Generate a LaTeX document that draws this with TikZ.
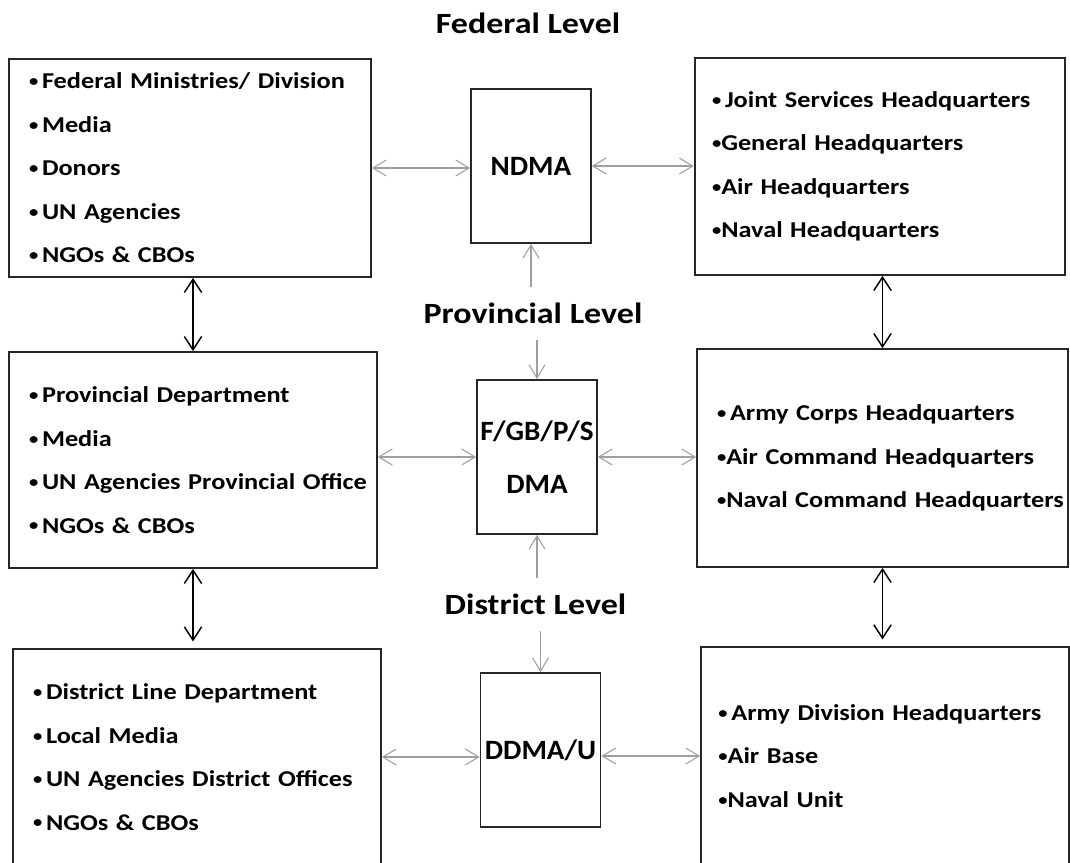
\documentclass[tikz,border=0pt]{standalone}
\usepackage{fontspec}
\setmainfont{Carlito}[FakeStretch=1.16]
\newfontfamily\orgfont{Carlito}[FakeStretch=1.04]
\newcommand{\bul}{\raisebox{1.6pt}{\fontsize{12}{12}\selectfont•}}
\usetikzlibrary{arrows.meta,positioning}

\begin{document}
\begin{tikzpicture}[x=0.75pt,y=-0.75pt,
 blk/.style={draw=black!85,line width=1.3pt,inner xsep=15pt,text width=246pt,
 minimum height=162pt,align=left,font=\bfseries\fontsize{17}{32.6}\selectfont},
 org/.style={draw=black!85,line width=1.3pt,minimum width=90pt,minimum height=115.5pt,
 inner sep=0pt,align=center,font=\orgfont\bfseries\fontsize{21}{40}\selectfont},
 lvl/.style={fill=white,minimum width=172pt,minimum height=40pt,
 font=\bfseries\fontsize{22}{26}\selectfont},
 garr/.style={draw=gray!75,line width=0.8pt,
 {Straight Barb[length=10pt,width=12pt]}-{Straight Barb[length=10pt,width=12pt]}},
 gto/.style={draw=gray!75,line width=0.8pt,-{Straight Barb[length=10pt,width=12pt]}},
 barr/.style={line width=1.1pt,
 {Straight Barb[length=10pt,width=13pt]}-{Straight Barb[length=10pt,width=13pt]}}]
 \path[use as bounding box] (0,0) rectangle (1070,863);
 \clip (0,0) rectangle (1070,863);
 \node[lvl] (fed) at (528,23) {Federal Level};
 \node[lvl] (prov) at (533,313.5) {Provincial Level};
 \node[lvl] (dist) at (535.5,604.5) {District Level};
 \node[blk,text width=241.5pt,minimum height=163.5pt] (lf) at (190,168)
 {\bul\,Federal Ministries/ Division\\ \bul\,Media\\ \bul\,Donors\\ \bul\,UN Agencies\\ \bul\,NGOs \& CBOs};
 \node[blk,text width=252pt,inner xsep=13pt,minimum height=162.75pt] (rf) at (880,166.5)
 {\bul\,Joint Services Headquarters\\ \bul General Headquarters\\ \bul Air Headquarters\\ \bul Naval Headquarters};
 \node[blk] (lp) at (193,460)
 {\bul\,Provincial Department\\ \bul\,Media\\ \mbox{\bul\,UN Agencies Provincial Office}\\ \bul\,NGOs \& CBOs};
 \node[blk,text width=248.25pt,minimum height=163.5pt] (rp) at (882.5,458)
 {\bul\,Army Corps Headquarters\\ \bul Air Command Headquarters\\ \mbox{\bul Naval Command Headquarters}};
 \node[blk] (lb) at (197,757)
 {\bul\,District Line Department\\ \bul\,Local Media\\ \bul\,UN Agencies District Offices\\ \bul\,NGOs \& CBOs};
 \node[blk,inner xsep=13pt,text width=250pt,minimum height=163.5pt] (rb) at (885,756)
 {\bul\,Army Division Headquarters\\ \bul Air Base\\ \bul Naval Unit};
 \node[org] (ndma) at (531,166) {NDMA};
 \node[org] (fgb) at (537,457) {F/GB/P/S\\DMA};
 \node[org] (ddma) at (540.5,750) {DDMA/U};
 \draw[garr] (lf.east) -- (lf.east -| ndma.west);
 \draw[garr] (ndma.east) -- (ndma.east -| rf.west);
 \draw[garr] (fgb.west -| lp.east) -- (fgb.west);
 \draw[garr] (fgb.east) -- (fgb.east -| rp.west);
 \draw[garr] (lb.east) -- (lb.east -| ddma.west);
 \draw[garr] (rb.west -| ddma.east) -- (rb.west);
 \draw[gto] (prov.north -| ndma.south) -- (ndma.south);
 \draw[gto] (prov.south -| fgb.north) -- (fgb.north);
 \draw[gto] (dist.north -| fgb.south) -- (fgb.south);
 \draw[gto] (dist.south -| ddma.north) -- (ddma.north);
 \draw[barr] (lf.south -| lp.north) -- (lp.north);
 \draw[barr,shorten >=5pt] (lp.south) -- (lp.south |- lb.north);
 \draw[barr] (rf.south -| rp.north) -- (rp.north);
 \draw[barr,shorten >=5pt] (rp.south) -- (rp.south |- rb.north);
\end{tikzpicture}
\end{document}
